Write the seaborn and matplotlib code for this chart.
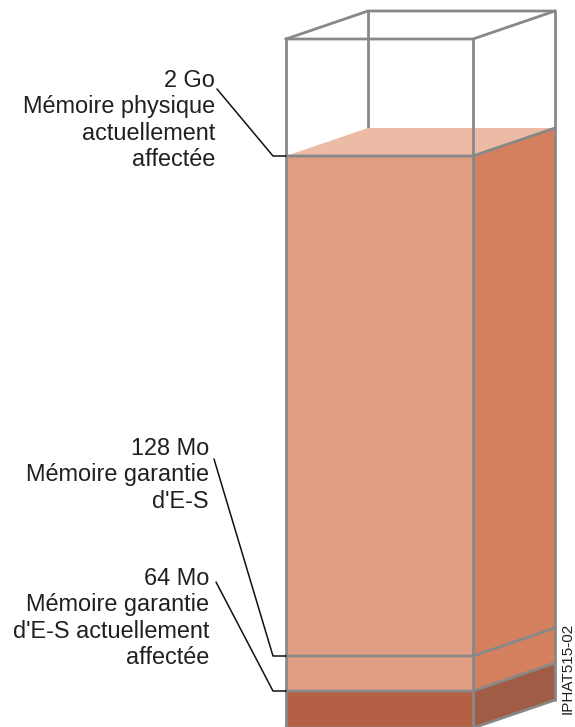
import matplotlib
matplotlib.use("Agg")
import matplotlib.pyplot as plt
import seaborn as sns
import pandas as pd

# ---- data (schematic diagram units, y measured upward from box bottom) ----
level_labels = ["2 Go", "128 Mo", "64 Mo"]
level_desc = [
    ["Mémoire physique", "actuellement", "affectée"],
    ["Mémoire garantie", "d'E-S"],
    ["Mémoire garantie", "d'E-S actuellement", "affectée"],
]
level_heights = [571, 71, 36]        # 2 Go fill top, 128 Mo line, 64 Mo line
box_top = 688                        # top of the empty outline box
box_bottom = -1
figure_id = "IPHAT515-02"

# ---- styling / geometry ----
W, H = 575, 727
x0, x1 = 286, 473           # front face
ddx, ddy = 82, 28           # depth offset
edge_c = "#888888"
txt_c = "#231F20"
c_top = "#EBBBA5"
c_front = "#DF9E84"
c_side = "#D4805E"
c_front_dark = "#B56045"
c_side_dark = "#A05C44"

sns.set_theme(style="white")
plt.rcParams["font.family"] = ["Liberation Sans", "DejaVu Sans"]

fig = plt.figure(figsize=(W / 100, H / 100), dpi=100)
ax = fig.add_axes([0, 0, 1, 1])
ax.set_xlim(0, W)
ax.set_ylim(0, H)
ax.axis("off")

lw = 2.0
fill_top = level_heights[0]
lvl128 = level_heights[1]
lvl64 = level_heights[2]

# back-left vertical edge visible above the fill
ax.plot([x0 + ddx, x0 + ddx], [fill_top + ddy, box_top + ddy], color=edge_c, lw=lw, zorder=1)

# top face of the fill
ax.fill([x0, x1, x1 + ddx, x0 + ddx], [fill_top, fill_top, fill_top + ddy, fill_top + ddy],
        color=c_top, lw=0, zorder=2)

# layers: (bottom, top, front colour, side colour)
layers = [
    (box_bottom, lvl64, c_front_dark, c_side_dark),
    (lvl64, lvl128, c_front, c_side),
    (lvl128, fill_top, c_front, c_side),
]
for yb, yt, cf, cs in layers:
    ax.fill([x0, x1, x1, x0], [yb, yb, yt, yt], color=cf, lw=0, zorder=2)
    ax.fill([x1, x1 + ddx, x1 + ddx, x1], [yb, yb + ddy, yt + ddy, yt], color=cs, lw=0, zorder=2)

# edges
for y in [box_top, fill_top, lvl128, lvl64, box_bottom]:
    ax.plot([x0, x1, x1 + ddx], [y, y, y + ddy], color=edge_c, lw=lw, zorder=3,
            solid_capstyle="projecting")
ax.plot([x0, x0], [box_bottom, box_top], color=edge_c, lw=lw, zorder=3)
ax.plot([x1, x1], [box_bottom, box_top], color=edge_c, lw=lw, zorder=3)
ax.plot([x1 + ddx, x1 + ddx], [box_bottom + ddy, box_top + ddy], color=edge_c, lw=lw, zorder=3)
ax.plot([x0, x0 + ddx, x1 + ddx], [box_top, box_top + ddy, box_top + ddy], color=edge_c, lw=lw,
        zorder=3, solid_joinstyle="miter")

# labels and leader lines
text_right = [215, 209, 209]
first_baseline = [H - 87, H - 455, H - 585]
leader_start = [(217, H - 89), (214, H - 459), (216, H - 582)]
line_step = 26.3
elbow_x = 273
fs = 16.9
for i, lab in enumerate(level_labels):
    lines = [lab] + level_desc[i]
    for j, s in enumerate(lines):
        ax.text(text_right[i], first_baseline[i] - j * line_step, s, ha="right", va="baseline",
                fontsize=fs, color=txt_c, zorder=4)
    sx, sy = leader_start[i]
    df = pd.DataFrame({"x": [sx, elbow_x, x0], "y": [sy, level_heights[i], level_heights[i]]})
    sns.lineplot(data=df, x="x", y="y", sort=False, ax=ax, color="#111111", lw=1.1, zorder=4,
                 estimator=None)

ax.text(568, H - 668, figure_id, rotation=90, ha="center", va="center", fontsize=11,
        color=txt_c)

ax.set_xlim(0, W)
ax.set_ylim(0, H)
ax.axis("off")
fig.savefig("out.png", dpi=100)
